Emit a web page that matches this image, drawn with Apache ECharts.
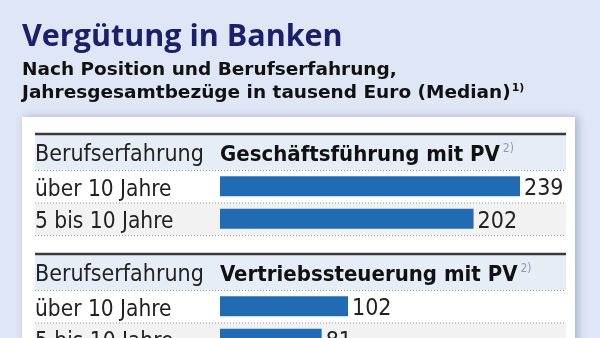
<!DOCTYPE html>
<html>
<head>
<meta charset="utf-8">
<script src="https://cdn.jsdelivr.net/npm/echarts@6/dist/echarts.min.js"></script>
<style>
  html, body { margin: 0; padding: 0; background: #dfe7f6; }
  #chart { width: 600px; height: 338px; }
</style>
</head>
<body>
<div id="chart"></div>
<script>
// Median total annual pay (thousand euro) by position and years of experience
const categories = ['über 10 Jahre', '5 bis 10 Jahre'];
const sectionTitles = ['Geschäftsführung mit PV', 'Vertriebssteuerung mit PV'];
const fuehrungValues = [239, 202];
const vertriebValues = [102, 81];
const rowHeader = 'Berufserfahrung';
const valueMax = 239;

const COND = '"DejaVu Sans Condensed", "Liberation Sans Narrow", sans-serif';
const HEAD = '"Open Sans", "Noto Sans", sans-serif';
const SUB = '"DejaVu Sans", "Noto Sans", sans-serif';

// table geometry
const lineLeft = 35, lineRight = 566;
const barLeft = 220, barWidth = 300;
const sectionTops = [134, 254];
const headH = 36, rowH = 32.5;

const chart = echarts.init(document.getElementById('chart'));

const graphics = [
  { type: 'rect', z: -3, shape: { x: 22, y: 117, width: 553, height: 260 },
    style: { fill: '#ffffff', shadowBlur: 8, shadowColor: 'rgba(60,80,120,0.35)', shadowOffsetX: 3 } }
];

const grids = [], xAxes = [], yAxes = [], series = [];
const seriesValues = [fuehrungValues, vertriebValues];

sectionTops.forEach(function (top, i) {
  const gTop = top + headH;
  // header band, shaded second row and rules
  graphics.push(
    { type: 'rect', z: -2, shape: { x: lineLeft, y: top, width: lineRight - lineLeft, height: headH },
      style: { fill: '#e7edf7' } },
    { type: 'rect', z: -2, shape: { x: lineLeft, y: gTop + rowH, width: lineRight - lineLeft, height: rowH },
      style: { fill: '#f2f2f2' } },
    { type: 'line', z: -1, shape: { x1: lineLeft, y1: top, x2: lineRight, y2: top },
      style: { stroke: '#3a3a3a', lineWidth: 2.5 } }
  );
  [gTop, gTop + rowH, gTop + 2 * rowH].forEach(function (y) {
    graphics.push({ type: 'line', z: -1, shape: { x1: lineLeft, y1: y + 0.5, x2: lineRight, y2: y + 0.5 },
      style: { stroke: '#9a9a9a', lineWidth: 1, lineDash: [1, 2] } });
  });
  graphics.push(
    { type: 'text', z: 3, x: lineLeft, y: top + headH / 2 + 3,
      style: { text: rowHeader, font: '23px ' + COND, fill: '#222', verticalAlign: 'middle' } },
    { type: 'text', z: 3, x: barLeft, y: top + headH / 2 + 3,
      style: { text: '{b|' + sectionTitles[i] + '}{s|2)}', verticalAlign: 'middle',
        rich: {
          b: { fontFamily: COND, fontWeight: 'bold', fontSize: 22, fill: '#111' },
          s: { fontFamily: COND, fontSize: 12, fill: '#8f9bb0', padding: [0, 0, 12, 3] }
        } } }
  );

  grids.push({ left: barLeft, top: gTop, width: barWidth, height: 2 * rowH, outerBoundsMode: 'none' });
  xAxes.push({ type: 'value', gridIndex: i, min: 0, max: valueMax, show: false });
  yAxes.push({
    type: 'category', gridIndex: i, data: categories, inverse: true, z: 5,
    axisLine: { show: false }, axisTick: { show: false }, splitLine: { show: false },
    axisLabel: { interval: 0, hideOverlap: false, showMinLabel: true, showMaxLabel: true,
      align: 'left', verticalAlign: 'top', lineHeight: 7,
      margin: barLeft - lineLeft, fontFamily: COND, fontSize: 22.5, color: '#222' }
  });
  series.push({
    type: 'bar', xAxisIndex: i, yAxisIndex: i, data: seriesValues[i], barWidth: 20, z: 4,
    itemStyle: { color: '#1f6cb4' },
    label: { show: true, position: 'right', distance: 4, offset: [0, 3], fontFamily: COND, fontSize: 23,
      color: '#222' }
  });
});

chart.setOption({
  backgroundColor: '#dfe7f6',
  animation: false,
  title: {
    left: 22, top: 22, padding: 0, itemGap: 6,
    text: 'Vergütung in Banken',
    textStyle: { fontFamily: HEAD, fontWeight: 'bold', fontSize: 30.5, color: '#1c1f6c' },
    subtext: '{t|Nach Position und Berufserfahrung,}\n{t|Jahresgesamtbezüge in tausend Euro (Median)}{s|1)}',
    subtextStyle: {
      lineHeight: 23,
      rich: {
        t: { fontFamily: SUB, fontWeight: 'bold', fontSize: 18.5, color: '#111', lineHeight: 23 },
        s: { fontFamily: SUB, fontWeight: 'bold', fontSize: 11, color: '#111', padding: [0, 0, 10, 1] }
      }
    }
  },
  graphic: graphics,
  grid: grids,
  xAxis: xAxes,
  yAxis: yAxes,
  series: series
});
</script>
</body>
</html>
